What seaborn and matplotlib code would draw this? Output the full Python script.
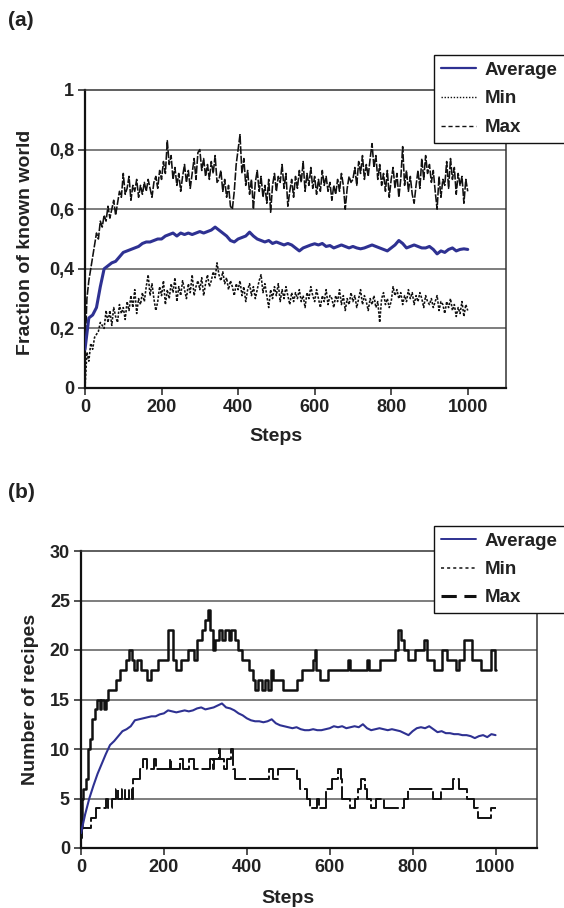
import numpy as np
import pandas as pd
import matplotlib
matplotlib.use("Agg")
import matplotlib.pyplot as plt
import seaborn as sns
from matplotlib.lines import Line2D
from matplotlib.ticker import FuncFormatter

# ---------------- data : panel (a) ----------------
steps_a_avg = list(range(0, 1001, 10))
avg_a = [0.13, 0.235, 0.245, 0.27, 0.34, 0.40, 0.41, 0.42, 0.425, 0.44,
         0.455, 0.46, 0.465, 0.47, 0.475, 0.485, 0.49, 0.49, 0.495, 0.50,
         0.50, 0.51, 0.515, 0.52, 0.51, 0.52, 0.515, 0.52, 0.515, 0.52,
         0.525, 0.52, 0.525, 0.53, 0.54, 0.53, 0.52, 0.51, 0.495, 0.49,
         0.50, 0.505, 0.51, 0.523, 0.51, 0.50, 0.495, 0.49, 0.495, 0.485,
         0.49, 0.485, 0.48, 0.485, 0.48, 0.47, 0.46, 0.47, 0.475, 0.48,
         0.484, 0.48, 0.485, 0.475, 0.478, 0.47, 0.475, 0.48, 0.475, 0.47,
         0.475, 0.47, 0.467, 0.47, 0.475, 0.48, 0.475, 0.47, 0.465, 0.46,
         0.47, 0.48, 0.495, 0.485, 0.47, 0.475, 0.48, 0.475, 0.47, 0.47,
         0.475, 0.465, 0.45, 0.46, 0.455, 0.465, 0.47, 0.46, 0.465, 0.467,
         0.465]

steps_a = list(range(0, 1001, 5))
max_a = [0.12, 0.30, 0.36, 0.40, 0.44, 0.48, 0.52, 0.50, 0.56, 0.54,
         0.58, 0.56, 0.61, 0.57, 0.60, 0.63, 0.58, 0.62, 0.66, 0.64,
         0.72, 0.65, 0.67, 0.71, 0.63, 0.68, 0.66, 0.70, 0.64, 0.68,
         0.65, 0.69, 0.66, 0.70, 0.67, 0.64, 0.69, 0.71, 0.67, 0.73,
         0.70, 0.76, 0.72, 0.83, 0.75, 0.78, 0.70, 0.74, 0.68, 0.72,
         0.66, 0.71, 0.75, 0.69, 0.73, 0.67, 0.72, 0.77, 0.70, 0.79,
         0.80, 0.73, 0.77, 0.71, 0.75, 0.70, 0.76, 0.72, 0.78, 0.69,
         0.70, 0.73, 0.66, 0.70, 0.64, 0.68, 0.61, 0.60, 0.66, 0.75,
         0.80, 0.85, 0.72, 0.77, 0.68, 0.73, 0.65, 0.70, 0.60, 0.69,
         0.73, 0.66, 0.71, 0.64, 0.68, 0.62, 0.70, 0.59, 0.68, 0.72,
         0.66, 0.71, 0.69, 0.75, 0.67, 0.72, 0.61, 0.66, 0.70, 0.64,
         0.71, 0.67, 0.73, 0.69, 0.76, 0.66, 0.72, 0.68, 0.74, 0.67,
         0.71, 0.65, 0.70, 0.66, 0.73, 0.68, 0.71, 0.66, 0.69, 0.63,
         0.68, 0.65, 0.70, 0.66, 0.72, 0.68, 0.60, 0.67, 0.71, 0.69,
         0.70, 0.74, 0.68, 0.76, 0.72, 0.78, 0.70, 0.75, 0.71, 0.77,
         0.82, 0.74, 0.78, 0.70, 0.75, 0.68, 0.72, 0.66, 0.73, 0.64,
         0.70, 0.74, 0.67, 0.72, 0.64, 0.70, 0.81, 0.68, 0.73, 0.66,
         0.71, 0.65, 0.62, 0.68, 0.73, 0.67, 0.77, 0.70, 0.78, 0.72,
         0.75, 0.69, 0.73, 0.66, 0.60, 0.71, 0.64, 0.70, 0.68, 0.76,
         0.67, 0.77, 0.70, 0.74, 0.65, 0.72, 0.68, 0.71, 0.62, 0.70,
         0.66]
min_a = [0.00, 0.12, 0.09, 0.15, 0.13, 0.17, 0.18, 0.19, 0.22, 0.21,
         0.20, 0.26, 0.22, 0.26, 0.21, 0.27, 0.24, 0.22, 0.28, 0.25,
         0.27, 0.23, 0.29, 0.26, 0.31, 0.27, 0.33, 0.25, 0.30, 0.28,
         0.32, 0.29, 0.34, 0.38, 0.31, 0.35, 0.30, 0.26, 0.29, 0.34,
         0.31, 0.36, 0.28, 0.33, 0.30, 0.35, 0.32, 0.37, 0.29, 0.34,
         0.31, 0.36, 0.33, 0.30, 0.35, 0.32, 0.38, 0.31, 0.34, 0.36,
         0.33, 0.37, 0.31, 0.35, 0.38, 0.34, 0.36, 0.39, 0.37, 0.42,
         0.38, 0.36, 0.39, 0.35, 0.37, 0.33, 0.36, 0.34, 0.31, 0.35,
         0.33, 0.36, 0.31, 0.34, 0.29, 0.33, 0.35, 0.31, 0.34, 0.30,
         0.33, 0.36, 0.38, 0.32, 0.35, 0.31, 0.27, 0.33, 0.30, 0.34,
         0.31, 0.35, 0.29, 0.33, 0.30, 0.34, 0.31, 0.28, 0.32, 0.29,
         0.32, 0.30, 0.33, 0.29, 0.31, 0.27, 0.32, 0.30, 0.34, 0.31,
         0.29, 0.33, 0.30, 0.27, 0.31, 0.29, 0.33, 0.28, 0.31, 0.30,
         0.27, 0.31, 0.29, 0.33, 0.28, 0.31, 0.26, 0.30, 0.28, 0.32,
         0.29, 0.31, 0.27, 0.30, 0.33, 0.28, 0.31, 0.29, 0.26, 0.30,
         0.28, 0.31, 0.27, 0.29, 0.22, 0.30, 0.32, 0.28, 0.30, 0.27,
         0.29, 0.34, 0.31, 0.33, 0.30, 0.32, 0.28, 0.31, 0.29, 0.33,
         0.30, 0.32, 0.28, 0.31, 0.29, 0.32, 0.30, 0.27, 0.31, 0.29,
         0.28, 0.30, 0.27, 0.29, 0.31, 0.26, 0.29, 0.28, 0.25, 0.29,
         0.27, 0.30, 0.26, 0.28, 0.24, 0.27, 0.25, 0.29, 0.24, 0.28,
         0.26]

# ---------------- data : panel (b) ----------------
steps_b_avg = list(range(0, 1001, 10))
avg_b = [1.5, 3.4, 5.0, 6.3, 7.5, 8.5, 9.5, 10.4, 10.8, 11.3,
         11.8, 12.0, 12.3, 12.9, 13.0, 13.1, 13.2, 13.3, 13.3, 13.5,
         13.6, 13.9, 13.8, 13.7, 13.8, 13.9, 13.8, 13.9, 14.1, 14.2,
         14.0, 14.1, 14.2, 14.4, 14.6, 14.2, 14.1, 13.9, 13.6, 13.4,
         13.1, 12.9, 12.8, 12.8, 12.7, 12.8, 13.0, 12.6, 12.4, 12.3,
         12.2, 12.1, 12.2, 12.0, 11.9, 11.9, 12.0, 11.9, 11.9, 12.0,
         12.1, 12.3, 12.2, 12.3, 12.1, 12.2, 12.3, 12.2, 12.5, 12.1,
         11.9, 12.0, 12.1, 12.0, 11.9, 12.0, 11.9, 11.8, 11.6, 11.4,
         11.8, 12.1, 12.2, 12.1, 12.3, 12.0, 11.7, 11.8, 11.6, 11.6,
         11.5, 11.5, 11.4, 11.4, 11.3, 11.1, 11.3, 11.4, 11.2, 11.5,
         11.4]

max_b_steps = [0, 3, 5, 12, 18, 22, 27, 33, 38, 45, 48, 55, 60, 66, 84, 95,
               108, 116, 122, 128, 135, 145, 160, 170, 185, 210, 222, 228,
               242, 258, 272, 280, 292, 300, 306, 310, 318, 324, 334, 340,
               348, 356, 362, 372, 378, 388, 405, 415, 420, 428, 436, 444,
               452, 458, 464, 488, 522, 532, 560, 565, 568, 576, 596, 644,
               650, 690, 694, 722, 758, 764, 772, 778, 790, 805, 828, 834,
               852, 872, 884, 905, 912, 924, 942, 966, 990, 998, 1000]
max_b = [2, 5, 6, 7, 10, 11, 13, 14, 15, 14, 15, 14, 15, 16, 17, 18,
         19, 20, 19, 18, 19, 18, 17, 18, 19, 22, 19, 18,
         19, 20, 19, 21, 22, 23, 24, 22, 20, 21, 22, 21,
         22, 21, 22, 21, 20, 19, 18, 17, 16, 17, 16, 17,
         16, 18, 17, 16, 17, 18, 19, 20, 18, 17, 18, 19,
         18, 19, 18, 19, 20, 22, 21, 20, 19, 20, 21, 19,
         18, 20, 19, 18, 19, 21, 19, 18, 20, 18, 18]

min_b_steps = [0, 2, 25, 37, 60, 66, 74, 85, 90, 100, 105, 115, 122, 126,
               143, 150, 160, 176, 180, 215, 218, 240, 245, 260, 272, 310,
               318, 320, 333, 336, 345, 352, 362, 366, 372, 454, 462, 476,
               520, 528, 544, 552, 570, 574, 592, 606, 620, 626, 630, 650,
               660, 668, 676, 685, 690, 700, 712, 730, 780, 790, 848, 868,
               897, 913, 930, 948, 957, 990, 1000]
min_b = [1, 2, 3, 4, 5, 4, 5, 6, 5, 6, 5, 6, 5, 7,
         8, 9, 8, 9, 8, 9, 8, 9, 8, 9, 8, 9,
         8, 9, 10, 9, 8, 9, 10, 8, 7, 8, 7, 8,
         7, 6, 5, 4, 5, 4, 6, 7, 8, 7, 5, 4,
         5, 6, 7, 6, 5, 4, 5, 4, 5, 6, 5, 6,
         7, 6, 5, 4, 3, 4, 4]

x_ticks = [0, 200, 400, 600, 800, 1000]
y_ticks_a = [0, 0.2, 0.4, 0.6, 0.8, 1.0]
y_ticks_b = [0, 5, 10, 15, 20, 25, 30]
series_labels = ["Average", "Min", "Max"]

# ---------------- style ----------------
sns.set_theme(style="white")
plt.rcParams["font.family"] = ["Liberation Sans", "DejaVu Sans"]
plt.rcParams["font.weight"] = "bold"
plt.rcParams["axes.labelweight"] = "bold"

BLUE = "#2e3192"
GRID = "#5a5a5a"
TXT = "#222222"

fig = plt.figure(figsize=(5.64, 9.08), dpi=100)
W, H = 564, 908


def px_axes(l, t, r, b):
    return [l / W, 1 - b / H, (r - l) / W, (b - t) / H]


def style_axes(ax, yticks, ylim, fmt):
    ax.set_xlim(0, 1100)
    ax.set_ylim(*ylim)
    ax.set_xticks(x_ticks)
    ax.set_yticks(yticks)
    ax.yaxis.set_major_formatter(FuncFormatter(fmt))
    for y in yticks[1:-1]:
        ax.axhline(y, color=GRID, lw=1.1, zorder=0)
    for s in ["left", "bottom"]:
        ax.spines[s].set_color("#111111")
        ax.spines[s].set_linewidth(1.6)
    for s in ["top", "right"]:
        ax.spines[s].set_color("#333333")
        ax.spines[s].set_linewidth(1.1)
    ax.tick_params(axis="both", which="major", direction="out", length=5,
                   width=1.1, color="#222222", labelsize=13, labelcolor=TXT,
                   bottom=True, left=True, pad=3)
    for lab in ax.get_xticklabels() + ax.get_yticklabels():
        lab.set_fontweight("bold")


def make_legend(handles, top_px, spacing):
    leg = fig.legend(handles, series_labels, loc="upper left",
                     bbox_to_anchor=(434 / W, 1 - top_px / H, 220 / W, 0),
                     mode="expand", frameon=True, fancybox=False,
                     framealpha=1, edgecolor="#111111", fontsize=13.5,
                     handlelength=1.9, handletextpad=0.45, borderpad=0.35,
                     labelspacing=spacing, borderaxespad=0)
    leg.get_frame().set_linewidth(1.0)
    for t in leg.get_texts():
        t.set_fontweight("bold")
        t.set_color(TXT)
    return leg


# ---------------- panel (a) ----------------
ax1 = fig.add_axes(px_axes(85, 90, 506, 388))
df_a_avg = pd.DataFrame({"step": steps_a_avg, "val": avg_a})
df_a = pd.DataFrame({"step": steps_a, "mx": max_a, "mn": min_a})
sns.lineplot(data=df_a, x="step", y="mx", ax=ax1, color="#111111", lw=1.15,
             linestyle=(0, (5, 1)), zorder=3)
sns.lineplot(data=df_a, x="step", y="mn", ax=ax1, color="#111111", lw=1.15,
             linestyle=(0, (1.5, 1)), zorder=3)
sns.lineplot(data=df_a_avg, x="step", y="val", ax=ax1, color=BLUE, lw=2.2,
             zorder=4)
style_axes(ax1, y_ticks_a, (0, 1),
           lambda v, p: ("%g" % round(v, 1)).replace(".", ","))
ax1.set_xlabel("Steps", fontsize=14, fontweight="bold", color=TXT)
ax1.set_ylabel("Fraction of known world", fontsize=14, fontweight="bold",
               color=TXT)
ax1.xaxis.set_label_coords(500 / 1100, -0.135)
ax1.yaxis.set_label_coords(-0.12, 0.49)

h_a = [Line2D([], [], color=BLUE, lw=1.6),
       Line2D([], [], color="#111111", lw=1.0, linestyle=(0, (1, 1.2))),
       Line2D([], [], color="#111111", lw=1.0, linestyle=(0, (3, 2)))]
make_legend(h_a, 55, 0.62)

# ---------------- panel (b) ----------------
ax2 = fig.add_axes(px_axes(81, 551, 537, 848))
df_b_avg = pd.DataFrame({"step": steps_b_avg, "val": avg_b})
df_b_max = pd.DataFrame({"step": max_b_steps, "val": max_b})
df_b_min = pd.DataFrame({"step": min_b_steps, "val": min_b})
sns.lineplot(data=df_b_max, x="step", y="val", ax=ax2, color="#111111",
             lw=1.8, drawstyle="steps-post", zorder=3)
sns.lineplot(data=df_b_min, x="step", y="val", ax=ax2, color="#111111",
             lw=1.4, drawstyle="steps-post", linestyle=(0, (12, 1.5)),
             zorder=3)
sns.lineplot(data=df_b_avg, x="step", y="val", ax=ax2, color=BLUE, lw=1.5,
             zorder=4)
style_axes(ax2, y_ticks_b, (0, 30), lambda v, p: "%d" % v)
ax2.set_xlabel("Steps", fontsize=14, fontweight="bold", color=TXT)
ax2.set_ylabel("Number of recipes", fontsize=14, fontweight="bold", color=TXT)
ax2.xaxis.set_label_coords(500 / 1100, -0.14)
ax2.yaxis.set_label_coords(-0.092, 0.5)

h_b = [Line2D([], [], color=BLUE, lw=1.4),
       Line2D([], [], color="#111111", lw=1.1, linestyle=(0, (2, 2))),
       Line2D([], [], color="#111111", lw=2.2, linestyle=(0, (5, 2.5)))]
make_legend(h_b, 526, 0.6)

# panel letters
fig.text(8 / W, 1 - 20 / H, "(a)", fontsize=15, fontweight="bold",
         va="center", ha="left", color=TXT)
fig.text(8 / W, 1 - 493 / H, "(b)", fontsize=15, fontweight="bold",
         va="center", ha="left", color=TXT)

fig.savefig("out.png", dpi=100)
